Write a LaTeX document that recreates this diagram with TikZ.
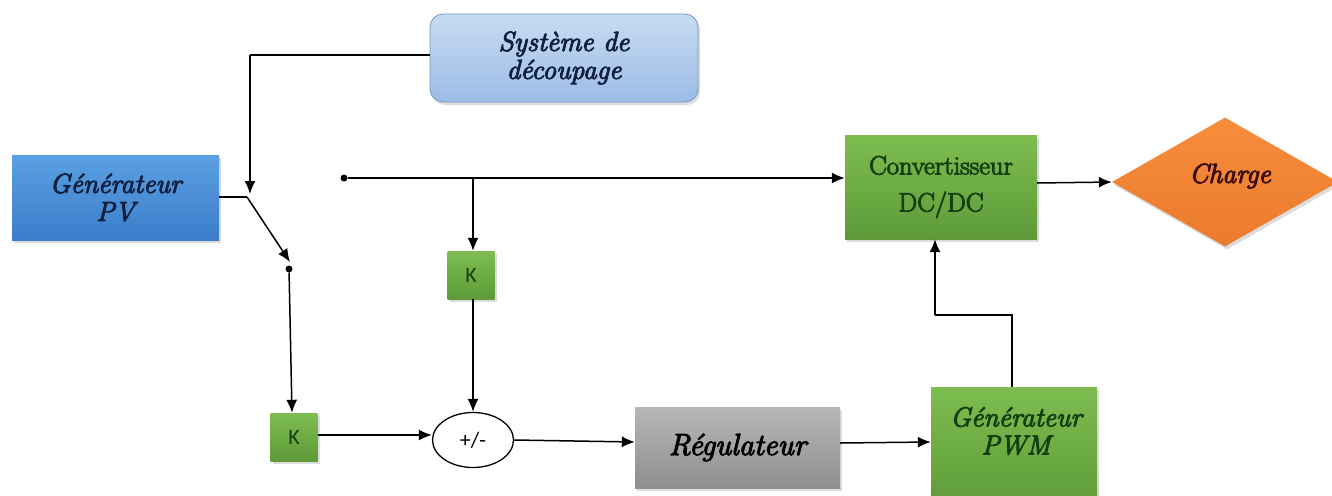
\documentclass[tikz,border=0pt]{standalone}
\usepackage{fontspec}
\newfontfamily\kfont{Carlito}
\newfontfamily\heavyserif{Latin Modern Roman}[FakeBold=3.5]
\usetikzlibrary{arrows.meta,shapes.geometric,shadows}

\definecolor{sysTop}{HTML}{C8DBF2}
\definecolor{sysBot}{HTML}{9CBCE6}
\definecolor{sysLine}{HTML}{7196C6}
\definecolor{pvTop}{HTML}{5AA0E2}
\definecolor{pvBot}{HTML}{3A7ECB}
\definecolor{grTop}{HTML}{7EBD50}
\definecolor{grBot}{HTML}{5E9B38}
\definecolor{gyTop}{HTML}{B8B8B8}
\definecolor{gyBot}{HTML}{8E8E8E}
\definecolor{orTop}{HTML}{F68D3D}
\definecolor{orBot}{HTML}{EC7A2C}
\definecolor{navyText}{HTML}{10213F}
\definecolor{greenText}{HTML}{143F10}
\definecolor{brownText}{HTML}{3A0C0C}

\tikzset{
  wire/.style={line width=1.5pt, draw=black},
  flow/.style={wire, -{Latex[length=13pt,width=11pt]}},
  blockshadow/.style={drop shadow={opacity=0.28, shadow xshift=2pt, shadow yshift=-3pt}},
  itlabel/.style={font=\heavyserif\itshape\fontsize{27.5}{28}\selectfont, align=center},
  uplabel/.style={font=\heavyserif\fontsize{26.5}{37}\selectfont, align=center},
  sysbox/.style={draw=sysLine, line width=0.8pt, rounded corners=13pt,
    top color=sysTop, bottom color=sysBot, blockshadow,
    minimum width=268pt, minimum height=88pt, itlabel, text=navyText},
  pvbox/.style={draw=none, top color=pvTop, bottom color=pvBot, blockshadow,
    minimum width=207pt, minimum height=85pt, itlabel, text=navyText},
  greenbox/.style={draw=none, top color=grTop, bottom color=grBot, blockshadow},
  greybox/.style={draw=none, top color=gyTop, bottom color=gyBot, blockshadow,
    minimum width=205pt, minimum height=81pt, itlabel,
    font=\heavyserif\itshape\fontsize{30.5}{32}\selectfont, text=black},
  kbox/.style={greenbox, minimum width=47pt, minimum height=48pt, inner sep=0pt,
    font=\kfont\fontsize{22}{24}\selectfont, text=greenText},
  dot/.style={circle, fill=black, inner sep=0pt, minimum size=7pt},
}

\begin{document}
\begin{tikzpicture}[x=1pt, y=-1pt]
  \useasboundingbox (0,0) rectangle (1332,495);

  % blocks
  \node[sysbox] (sys) at (564,58) {Système de\\découpage};
  \node[pvbox] (pv) at (115.5,197.5) {Générateur\\PV};
  \node[greenbox, minimum width=192pt, minimum height=104pt, uplabel, text=greenText]
    (conv) at (941,187) {Convertisseur\\DC/DC};
  \node[diamond, top color=orTop, bottom color=orBot, draw=none, blockshadow,
        minimum width=226pt, minimum height=129pt, inner sep=0pt]
    (load) at (1225,182) {};
  \node[itlabel, text=brownText] (loadtxt) at (1230,176) {Charge};
  \node[kbox] (k2) at (471,275) {K};
  \node[kbox] (k1) at (294,437) {K};
  \node[ellipse, draw=black, line width=1.3pt, fill=white,
        minimum width=81pt, minimum height=55pt, inner sep=0pt,
        font=\kfont\fontsize{22}{24}\selectfont]
    (sum) at (473,440) {+/-};
  \node[greybox] (reg) at (737.5,447.5) {Régulateur};
  \node[greenbox, minimum width=166pt, minimum height=120pt] (pwm) at (1014,447) {};
  \node[itlabel, text=greenText] (pwmtxt) at (1016,431) {Générateur\\PWM};

  % switch points and junctions
  \coordinate (sysbend) at (250,55);
  \coordinate (pivot) at (247,197);
  \coordinate (swtip) at (290,262);
  \node[dot] (swdot) at (289,269) {};
  \node[dot] (busdot) at (344,178) {};
  \coordinate (tap) at (473,178);
  \coordinate (pwmup) at (1012,315);
  \coordinate (convin) at (935,315);

  % connectors
  \draw[wire] (sys.west |- sysbend) -- (sysbend);
  \draw[flow] (sysbend) -- (250,194);
  \draw[wire] (pv.east |- pivot) -- (pivot);
  \draw[flow] (pivot) -- (swtip);
  \draw[flow] (swdot) -- (k1.north -| 292,0);
  \draw[flow] (k1.east |- 0,435) -- (sum.west |- 0,435);
  \draw[flow] (busdot) -- (conv.west |- busdot);
  \draw[flow] (tap) -- (tap |- k2.north);
  \draw[flow] (k2.south -| tap) -- (sum.north);
  \draw[flow] (sum.east) -- (reg.west |- 0,442);
  \draw[flow] (reg.east |- 0,443) -- (pwm.west |- 0,442);
  \draw[wire] (pwm.north -| pwmup) -- (pwmup) -- (convin);
  \draw[flow] (convin) -- (conv.south -| convin);
  \draw[flow] (conv.east |- 0,183) -- (load.west);
\end{tikzpicture}
\end{document}
